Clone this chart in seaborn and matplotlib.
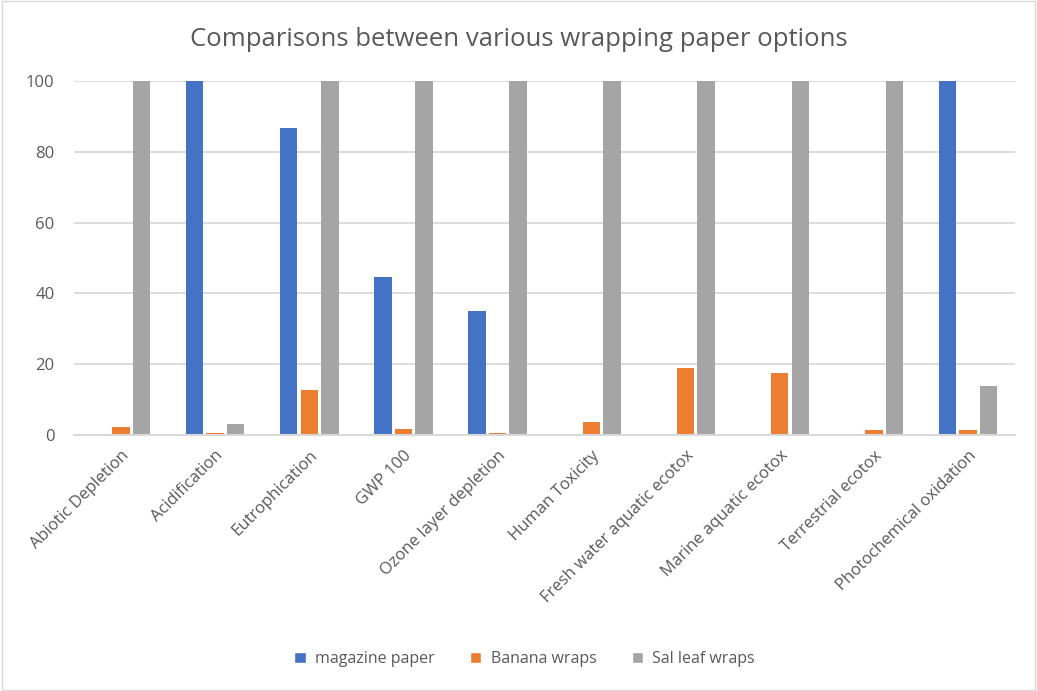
import matplotlib
matplotlib.use("Agg")
import matplotlib.pyplot as plt
from matplotlib.patches import Rectangle, Patch
import seaborn as sns
import pandas as pd

categories = [
    "Abiotic Depletion", "Acidification", "Eutrophication", "GWP 100",
    "Ozone layer depletion", "Human Toxicity", "Fresh water aquatic ecotox",
    "Marine aquatic ecotox", "Terrestrial ecotox", "Photochemical oxidation",
]
series_names = ["magazine paper", "Banana wraps", "Sal leaf wraps"]
magazine_paper = [0, 100, 86.7, 44.7, 35.0, 0, 0, 0, 0, 100]
banana_wraps = [2.3, 0.6, 12.6, 1.8, 0.6, 3.7, 18.8, 17.4, 1.3, 1.3]
sal_leaf_wraps = [100, 3.1, 100, 100, 100, 100, 100, 100, 100, 13.9]
y_ticks = [0, 20, 40, 60, 80, 100]
colors = ["#4472C4", "#ED7D31", "#A5A5A5"]

df = pd.DataFrame({
    "category": categories * 3,
    "series": [series_names[0]] * 10 + [series_names[1]] * 10 + [series_names[2]] * 10,
    "value": magazine_paper + banana_wraps + sal_leaf_wraps,
})

sns.set_theme(style="white")
plt.rcParams["font.family"] = ["Open Sans", "DejaVu Sans"]
text_color = "#595959"

fig = plt.figure(figsize=(10.37, 6.91), dpi=100)
ax = fig.add_axes([74 / 1037, 1 - 435 / 691, 941 / 1037, 354 / 691])

sns.barplot(data=df, x="category", y="value", hue="series", order=categories,
            hue_order=series_names, palette=colors, width=0.654, gap=0.147,
            saturation=1, ax=ax, legend=False, edgecolor="none")

ax.set_ylim(0, 100)
ax.set_xlim(-0.5, len(categories) - 0.5)
ax.set_yticks(y_ticks)
ax.yaxis.grid(True, color="#D9D9D9", linewidth=1.3)
ax.set_axisbelow(True)
for side in ["top", "right", "left"]:
    ax.spines[side].set_visible(False)
ax.spines["bottom"].set_color("#D9D9D9")
ax.spines["bottom"].set_linewidth(1.5)
ax.tick_params(axis="both", length=0, colors=text_color)
ax.tick_params(axis="y", pad=14, labelsize=12)
ax.tick_params(axis="x", pad=9, labelsize=12)
ax.set_xlabel("")
ax.set_ylabel("")
plt.setp(ax.get_xticklabels(), rotation=45, ha="right", rotation_mode="anchor",
         color=text_color)

fig.suptitle("Comparisons between various wrapping paper options", y=1 - 40 / 691,
             va="center", fontsize=18.5, color=text_color)

handles = [Patch(facecolor=c, label=n) for c, n in zip(colors, series_names)]
fig.legend(handles=handles, loc="center", bbox_to_anchor=(0.506, 1 - 659 / 691),
           ncol=3, frameon=False, fontsize=11.5, labelcolor=text_color,
           handlelength=0.7, handleheight=0.7, handletextpad=0.6, columnspacing=2.2)

fig.patches.append(Rectangle((0.002, 0.002), 0.996, 0.996, transform=fig.transFigure,
                             fill=False, edgecolor="#D9D9D9", linewidth=1))

fig.savefig("out.png", dpi=100)
